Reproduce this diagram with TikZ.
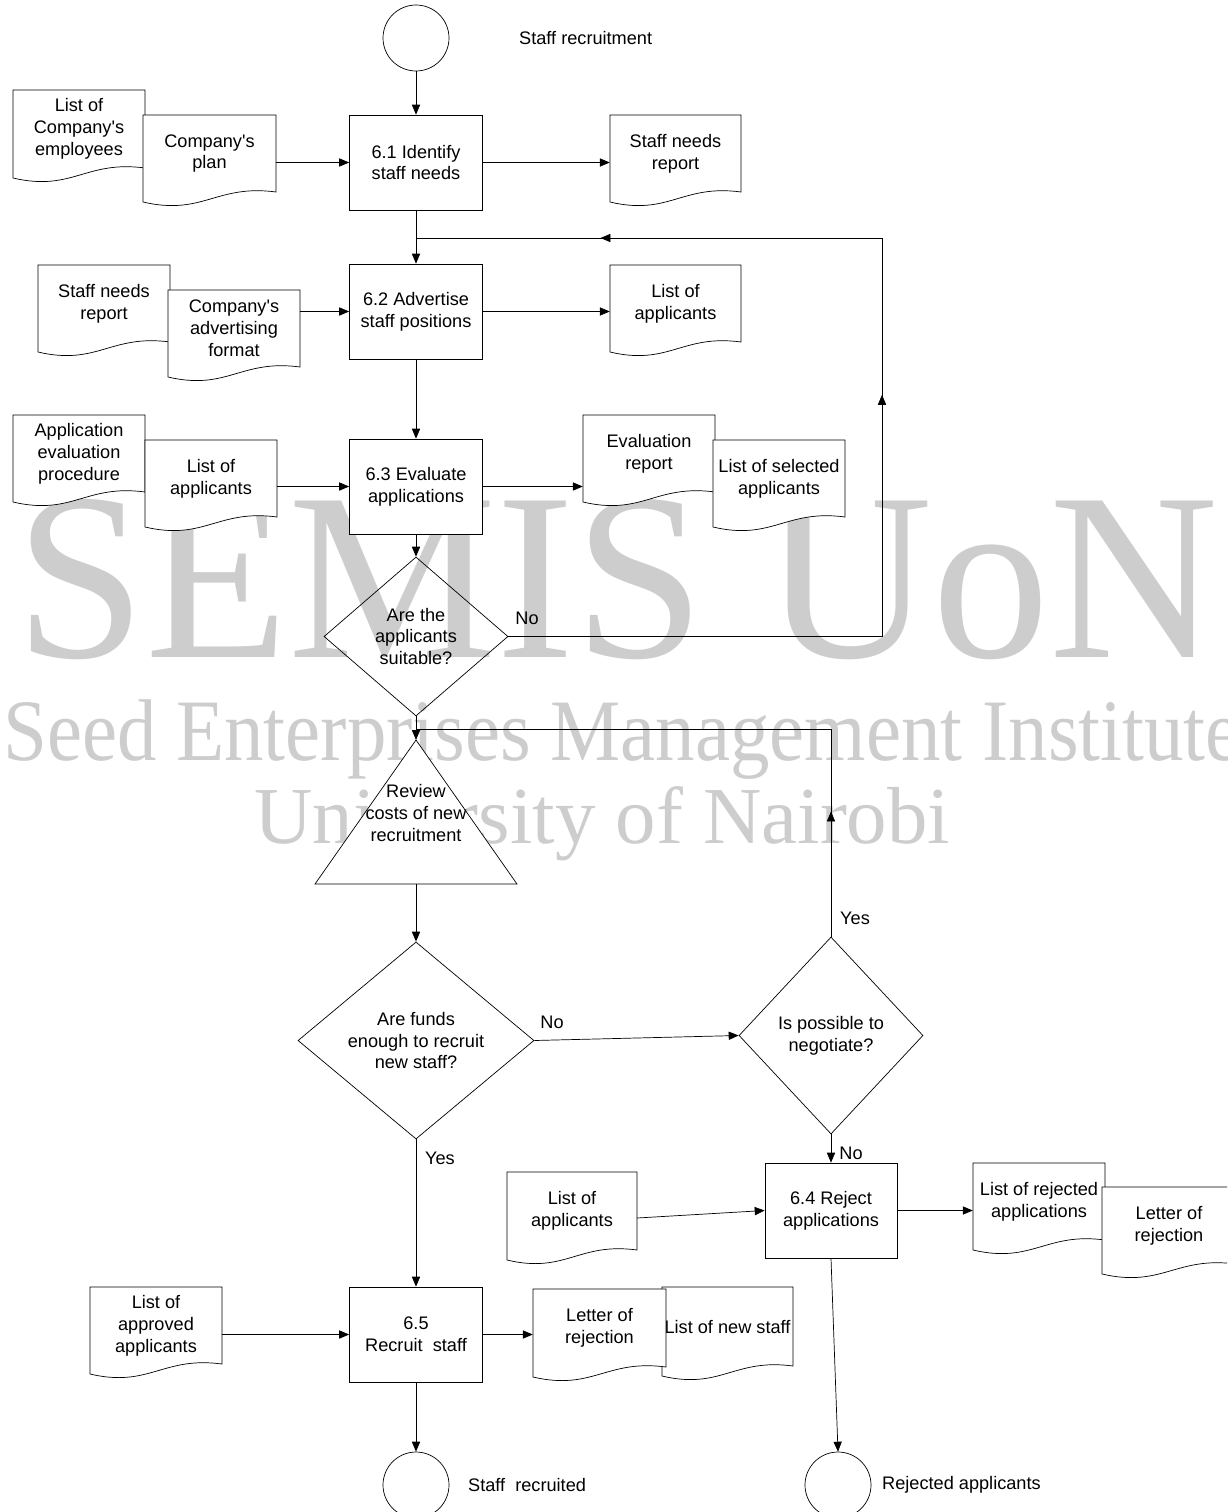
\documentclass[tikz,border=0pt]{standalone}
\usepackage{fontspec}
\newfontfamily\dfont{Liberation Sans}
\newfontfamily\wmfont{Liberation Serif}
\usetikzlibrary{arrows.meta,shapes.geometric,decorations.markings}
\definecolor{wmgray}{RGB}{205,205,205}
\newcommand\docnode[6]{%
  \draw[shp] (#2,#3) -- (#4,#3) -- (#4,{#5-10}) .. controls ({#2+0.55*(#4-#2)},{#5-18}) and ({#2+0.45*(#4-#2)},{#5+14}) .. (#2,#5) -- cycle;
  \node[txt, minimum width={(#4-#2)*0.03cm}, minimum height={(#5-10-#3)*0.03cm}] (#1) at ({(#2+#4)/2},{(#3+#5-10)/2}) {#6};
}
\begin{document}
\begin{tikzpicture}[x=0.03cm,y=-0.03cm,
  txt/.style={font=\dfont\fontsize{15.5}{18.7}\selectfont, align=center, inner sep=0pt},
  shp/.style={draw=black, fill=white, line width=0.6pt},
  box/.style={shp, txt, rectangle, minimum width=3.99cm, minimum height=2.85cm},
  dia/.style={draw=black, line width=0.6pt, txt, diamond, inner sep=0pt},
  circ/.style={shp, circle, minimum size=1.98cm, inner sep=0pt},
  wm/.style={text=wmgray, inner sep=0pt},
  arr/.style={draw=black, line width=0.6pt, -{Triangle[length=8.5pt,width=7pt]}},
  ln/.style={draw=black, line width=0.6pt},
  arrowat/.style={postaction={decorate, decoration={markings, mark=at position #1 with {\arrow{Triangle[length=8.5pt,width=7pt]}}}}}
]
\useasboundingbox (0,0) rectangle (1227,1512);
\clip (0,0) rectangle (1227,1512);
\fill[white] (0,0) rectangle (1227,1512);

% watermark
\node[wm, anchor=base west, font=\wmfont\fontsize{204}{204}\selectfont] (wm1) at (15,657) {\scalebox{0.98}[1]{SEMIS UoN}};
\node[wm, anchor=base west, font=\wmfont\fontsize{74.8}{75}\selectfont] (wm2) at (3,760) {\scalebox{0.9}[1]{Seed Enterprises Management Institute}};
\node[wm, anchor=base west, font=\wmfont\fontsize{69}{69}\selectfont] (wm3) at (254,843) {University of Nairobi};

% terminals
\node[circ] (C1) at (416,38) {};
\node[txt, anchor=west] (tC1) at (519,38) {Staff recruitment};
\node[circ] (C2) at (416,1485) {};
\node[txt, anchor=west] (tC2) at (468,1485) {Staff~ recruited};
\node[circ] (C3) at (838,1485) {};
\node[txt, anchor=west] (tC3) at (882,1485) {Rejected applicants};

% process boxes
\node[box] (B1) at (416,162.5) {6.1 Identify\\staff needs};
\node[box] (B2) at (416,311.5) {6.2 Advertise\\staff positions};
\node[box] (B3) at (416,486.5) {6.3 Evaluate\\applications};
\node[box, minimum width=3.96cm] (B4) at (831,1210.5) {6.4 Reject\\applications};
\node[box] (B5) at (416,1334.5) {6.5\\Recruit~ staff};

% documents
\docnode{d1}{13}{90}{145}{178}{List of\\Company's\\employees}
\docnode{d2}{143}{115}{276}{202}{Company's\\plan}
\docnode{d3}{610}{115}{741}{202}{Staff needs\\report}
\docnode{d4}{38}{265}{170}{352}{Staff needs\\report}
\docnode{d5}{168}{290}{300}{377}{Company's\\advertising\\format}
\docnode{d6}{610}{265}{741}{352}{List of\\applicants}
\docnode{d7}{13}{415}{145}{502}{Application\\evaluation\\procedure}
\docnode{d8}{145}{440}{277}{527}{List of\\applicants}
\docnode{d9}{583}{415}{715}{502}{Evaluation\\report}
\docnode{d10}{713}{440}{845}{527}{List of selected\\applicants}
\docnode{d11}{507}{1172}{637}{1260}{List of\\applicants}
\docnode{d12}{973}{1163}{1105}{1250}{List of rejected\\applications}
\docnode{d13}{1102}{1187}{1236}{1274}{Letter of\\rejection}
\docnode{d14}{90}{1287}{222}{1374}{List of\\approved\\applicants}
\docnode{d16}{662}{1287}{793}{1376}{List of new staff}
\docnode{d15}{533}{1289}{666}{1377}{Letter of\\rejection}

% decisions
\node[dia, minimum width=5.52cm, minimum height=4.77cm] (Q1) at (416,636.5) {Are the\\applicants\\suitable?};
\node[dia, minimum width=7.08cm, minimum height=5.91cm] (Q2) at (416,1040.5) {Are funds\\enough to recruit\\new staff?};
\node[dia, minimum width=5.52cm, minimum height=5.91cm] (Q3) at (831,1035.5) {Is possible to\\negotiate?};

% review triangle
\coordinate (Ttop) at (416,740);
\coordinate (Tbot) at (416,884);
\draw[shp] (Ttop) -- (517,884) -- (315,884) -- cycle;
\node[txt] (T) at (416,813) {Review\\costs of new\\recruitment};

% labels
\node[txt] (lNo1) at (527,618) {No};
\node[txt] (lNo2) at (552,1022) {No};
\node[txt] (lYes1) at (855,918) {Yes};
\node[txt] (lNo3) at (851,1153) {No};
\node[txt] (lYes2) at (440,1158) {Yes};

% helper coordinates
\coordinate (L1) at (882,636.5);
\coordinate (L2) at (882,238);
\coordinate (J1) at (416,238);
\coordinate (J2a) at (831,729);
\coordinate (J2b) at (416,729);
\coordinate (d11o) at (637,1218);

% connectors
\draw[arr] (C1) -- (B1);
\draw[arr] (B1 -| d2.east) -- (B1.west);
\draw[arr] (B1.east) -- (B1.east -| d3.west);
\draw[arr] (B1.south) -- (B2.north);
\draw[arr] (B2 -| d5.east) -- (B2.west);
\draw[arr] (B2.east) -- (B2.east -| d6.west);
\draw[arr] (B2.south) -- (B3.north);
\draw[arr] (B3 -| d8.east) -- (B3.west);
\draw[arr] (B3.east) -- (B3.east -| d9.west);
\draw[arr] (B3.south) -- (Q1.north);
\draw[ln, arrowat=0.497, arrowat=0.851] (Q1.east) -- (L1) -- (L2) -- (J1);
\draw[arr] (Q1.south) -- (Ttop);
\draw[ln, arrowat=0.201] (Q3.north) -- (J2a) -- (J2b);
\draw[arr] (Tbot) -- (Q2.north);
\draw[arr] (Q2.east) -- (Q3.west);
\draw[arr] (Q3.south) -- (B4.north);
\draw[arr] (Q2.south) -- (B5.north);
\draw[arr] (d11o) -- (B4.west);
\draw[arr] (B4.east) -- (B4.east -| d12.west);
\draw[arr] (B4.south) -- (C3.north);
\draw[arr] (B5 -| d14.east) -- (B5.west);
\draw[arr] (B5.east) -- (B5.east -| d15.west);
\draw[arr] (B5.south) -- (C2.north);
\end{tikzpicture}
\end{document}
